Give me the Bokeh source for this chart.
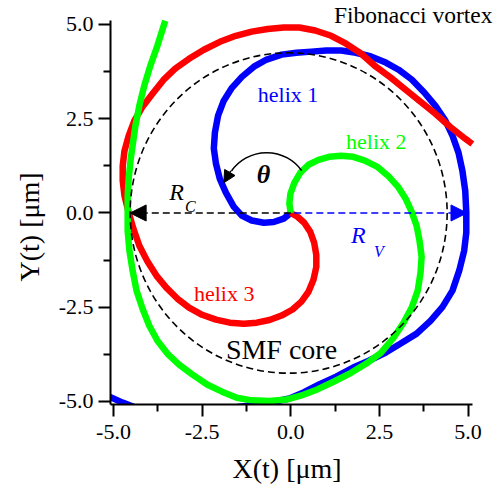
from bokeh.plotting import figure
from bokeh.models import Range1d, Label, Arrow, NormalHead, FixedTicker, NumeralTickFormatter, Title
from bokeh.embed import file_html
from bokeh.resources import INLINE

# ---- data (units: micrometres) ----
helix1_x = [0.00, -0.20, -0.48, -0.76, -1.10, -1.38, -1.61, -1.83, -2.00, -2.11, -2.17, -2.14, -2.05,
            -1.89, -1.66, -1.38, -1.04, -0.68, -0.26, 0.16, 0.58, 1.00, 1.42, 1.84, 2.26, 2.68,
            3.04, 3.41, 3.77, 4.08, 4.36, 4.56, 4.73, 4.84, 4.92, 4.95, 4.95, 4.89, 4.75, 4.56,
            4.28, 3.94, 3.55, 3.10, 2.68, 2.20, 1.76, 1.28, 0.80, 0.36, -0.04, -0.54, -1.10,
            -1.94, -2.78, -3.62, -4.04, -4.38, -4.74, -5.13, -5.44]
helix1_y = [0.00, -0.15, -0.24, -0.26, -0.20, -0.07, 0.17, 0.54, 0.90, 1.31, 1.71, 2.13, 2.58,
            2.98, 3.32, 3.61, 3.88, 4.07, 4.20, 4.25, 4.28, 4.31, 4.31, 4.25, 4.15, 3.99,
            3.80, 3.54, 3.19, 2.84, 2.45, 2.05, 1.60, 1.12, 0.59, 0.01, -0.52, -1.00, -1.53, -2.06,
            -2.49, -2.86, -3.20, -3.46, -3.70, -3.92, -4.10, -4.34, -4.55, -4.76, -4.92, -5.02, -5.10,
            -5.20, -5.26, -5.26, -5.23, -5.16, -5.03, -4.87, -4.74]

helix2_x = [0.00, -0.04, -0.01, 0.10, 0.27, 0.50, 0.78, 1.08, 1.42, 1.76, 2.09, 2.43, 2.74, 3.02,
            3.24, 3.41, 3.55, 3.63, 3.69, 3.66, 3.58, 3.41, 3.18, 2.90, 2.54, 2.12, 1.70, 1.22,
            0.75, 0.30, -0.12, -0.60, -1.10, -1.52, -1.94, -2.36, -2.78, -3.15, -3.48, -3.76,
            -3.99, -4.18, -4.35, -4.46, -4.55, -4.60, -4.60, -4.60, -4.57, -4.52, -4.46, -4.38,
            -4.27, -4.13, -3.96, -3.76, -3.54]
helix2_y = [0.00, 0.25, 0.51, 0.80, 1.07, 1.28, 1.41, 1.49, 1.52, 1.49, 1.39, 1.23, 0.99, 0.70,
            0.38, 0.03, -0.34, -0.73, -1.16, -1.58, -2.06, -2.51, -2.91, -3.31, -3.71, -4.00, -4.24, -4.47,
            -4.68, -4.84, -4.95, -4.99, -4.97, -4.90, -4.74, -4.55, -4.28, -4.02, -3.73, -3.39,
            -2.99, -2.54, -2.06, -1.53, -1.00, -0.47, 0.01, 0.46, 0.92, 1.39, 1.79, 2.32,
            2.85, 3.38, 3.91, 4.44, 5.10]

helix3_x = [0.00, 0.19, 0.38, 0.55, 0.66, 0.72, 0.72, 0.64, 0.50, 0.30, 0.05, -0.26, -0.60, -0.96,
            -1.32, -1.72, -2.11, -2.50, -2.87, -3.20, -3.51, -3.79, -4.04, -4.27, -4.43, -4.57,
            -4.69, -4.74, -4.74, -4.69, -4.57, -4.41, -4.18, -3.90, -3.59, -3.26, -2.87, -2.45,
            -2.00, -1.55, -1.10, -0.65, -0.20, 0.24, 0.69, 1.14, 1.56, 1.98, 2.40, 2.82, 3.24,
            3.66, 4.08, 4.50, 4.92, 5.12]
helix3_y = [0.00, -0.10, -0.26, -0.50, -0.79, -1.11, -1.43, -1.77, -2.09, -2.35, -2.56, -2.72, -2.84, -2.91,
            -2.94, -2.91, -2.83, -2.70, -2.51, -2.27, -1.98, -1.66, -1.29, -0.87, -0.44, 0.01,
            0.46, 0.86, 1.25, 1.65, 2.05, 2.45, 2.82, 3.16, 3.53, 3.83, 4.09, 4.33,
            4.54, 4.70, 4.81, 4.88, 4.92, 4.92, 4.84, 4.70, 4.49, 4.23, 3.88, 3.59, 3.27,
            2.95, 2.63, 2.28, 1.97, 1.83]

core_center = (-0.06, 0.0)
core_size = (8.94, 8.50)       # ellipse width / height in data units
r_c = -4.53                    # tip of R_C arrow
r_v = 4.97                     # tip of R_V arrow

tick_values = [-5.0, -2.5, 0.0, 2.5, 5.0]
minor_values = [-3.75, -1.25, 1.25, 3.75]
x_axis_extent = (-5.084, 5.13)
y_axis_extent = (-5.08, 5.10)

BLUE, GREEN, RED = "#0000FF", "#00FF00", "#FF0000"
SERIF = "Liberation Serif"

p = figure(width=502, height=499, x_range=Range1d(-5.084, 5.971), y_range=Range1d(-5.08, 5.636),
           output_backend="svg", toolbar_location=None,
           min_border_left=107, min_border_right=0, min_border_top=0, min_border_bottom=95)
p.outline_line_color = None
p.grid.visible = False
p.background_fill_color = "white"
p.border_fill_color = "white"

for ax in (p.xaxis[0], p.yaxis[0]):
    ax.ticker = FixedTicker(ticks=tick_values, minor_ticks=minor_values)
    ax.formatter = NumeralTickFormatter(format="0.0")
    ax.axis_line_width = 2
    ax.axis_line_color = "black"
    ax.major_tick_line_width = 2
    ax.minor_tick_line_width = 2
    ax.major_tick_line_color = "black"
    ax.minor_tick_line_color = "black"
    ax.major_tick_out = 12
    ax.major_tick_in = 0
    ax.minor_tick_out = 7
    ax.minor_tick_in = 0
    ax.major_label_text_font = SERIF
    ax.major_label_text_font_size = "22px"
    ax.major_label_text_color = "black"
p.xaxis.bounds = x_axis_extent
p.yaxis.bounds = y_axis_extent
p.xaxis.major_label_standoff = 8
p.yaxis.major_label_standoff = 5

# axis titles as side-panel titles (placed under / beside the axes)
p.add_layout(Title(text="X(t) [μm]", align="left", offset=122, standoff=18, vertical_align="bottom",
                   text_font=SERIF, text_font_size="28px", text_font_style="normal",
                   text_color="black"), "below")
p.add_layout(Title(text="Y(t) [μm]", align="left", offset=123, standoff=22, vertical_align="bottom",
                   text_font=SERIF, text_font_size="28px", text_font_style="normal",
                   text_color="black"), "left")

# spirals
p.line(helix1_x, helix1_y, line_color=BLUE, line_width=6.5, line_join="round")
p.line(helix3_x, helix3_y, line_color=RED, line_width=6.5, line_join="round")
p.line(helix2_x, helix2_y, line_color=GREEN, line_width=6.5, line_join="round")

# SMF core
p.ellipse(x=[core_center[0]], y=[core_center[1]], width=[core_size[0]], height=[core_size[1]],
          fill_color=None, line_color="black", line_width=1.6, line_dash="7 4")

# radii arrows
p.add_layout(Arrow(x_start=0, y_start=0, x_end=r_c, y_end=0, line_color="black", line_width=1.6,
                   line_dash="7 4",
                   end=NormalHead(size=16, fill_color="black", line_color="black", line_width=1)))
p.add_layout(Arrow(x_start=0.1, y_start=0, x_end=r_v, y_end=0, line_color=BLUE, line_width=1.6,
                   line_dash="7 4",
                   end=NormalHead(size=16, fill_color=BLUE, line_color=BLUE, line_width=1)))

# theta arc
p.arc(x=[-0.68], y=[0.46], radius=43, radius_units="screen", start_angle=0.62, end_angle=2.53,
      line_color="black", line_width=1.5)
p.add_layout(Arrow(x_start=-1.69, y_start=1.12, x_end=-1.89, y_end=0.80, line_color="black",
                   line_width=1.5,
                   end=NormalHead(size=12, fill_color="black", line_color="black", line_width=1)))

def lab(x, y, text, color="black", size="22px", style="normal", align="left"):
    p.add_layout(Label(x=x, y=y, text=text, text_color=color, text_font=SERIF,
                       text_font_size=size, text_font_style=style, text_align=align,
                       text_baseline="alphabetic"))

lab(-0.93, 3.15, "helix 1", BLUE)
lab(1.56, 1.90, "helix 2", GREEN)
lab(-2.73, -2.13, "helix 3", RED)
lab(-1.83, -3.62, "SMF core", size="28px")
lab(5.69, 5.26, "Fibonacci vortex", size="23.5px", align="right")
lab(-3.43, 0.565, "R", size="24px", style="italic")
lab(-2.98, 0.17, "C", size="16px", style="italic")
lab(1.70, -0.595, "R", BLUE, size="24px", style="italic")
lab(2.35, -1.02, "V", BLUE, size="16px", style="italic")
lab(-0.96, 1.03, "θ", size="26px", style="bold italic")

open("out.html", "w").write(file_html(p, INLINE))
